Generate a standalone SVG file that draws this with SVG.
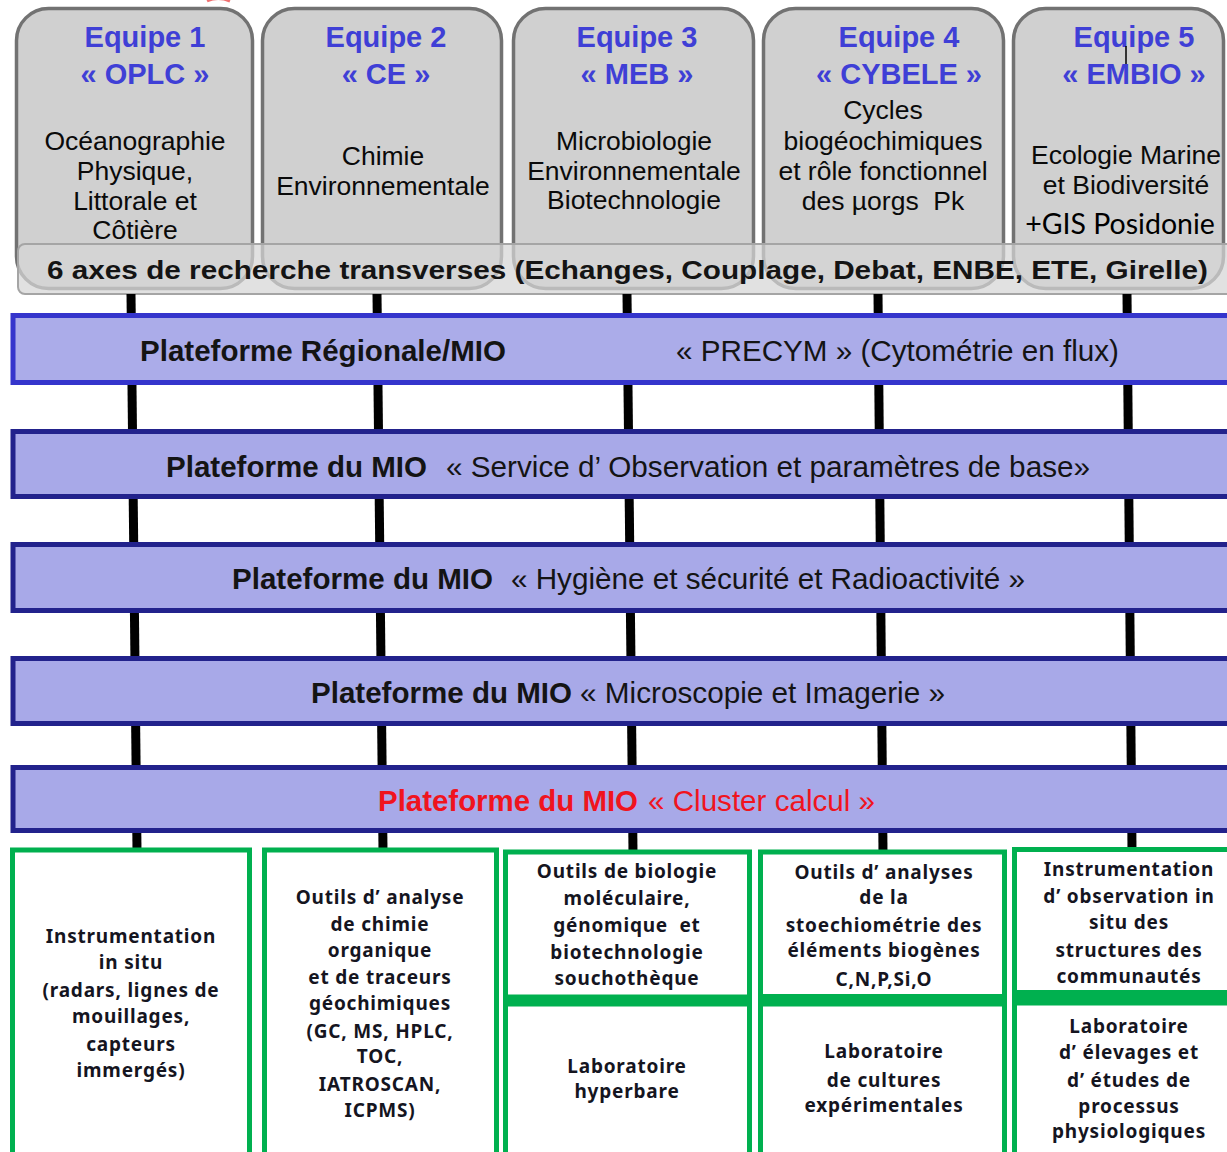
<svg xmlns="http://www.w3.org/2000/svg" width="1227" height="1152" viewBox="0 0 1227 1152">
<style>
.team{fill:#d0d0d0;stroke:#727272;stroke-width:3.5}
.ttl{font-family:"Liberation Sans",Arial,sans-serif;font-weight:bold;font-size:29px;fill:#3f3fd6;text-anchor:middle}
.dsc{font-family:"Liberation Sans",Arial,sans-serif;font-size:26.5px;fill:#0a0a0a;text-anchor:middle}
.gis{font-family:Lato,"Open Sans",sans-serif;font-size:28.5px;fill:#000;text-anchor:middle}
.axe{font-family:"Liberation Sans",Arial,sans-serif;font-weight:bold;font-size:26px;fill:#141414}
.plat{fill:#a8a9e8;stroke:#22228c;stroke-width:5}
.plat1{fill:#abace9;stroke:#3535cc;stroke-width:5}
.pb{font-family:"Liberation Sans",Arial,sans-serif;font-weight:bold;font-size:29.5px;fill:#141414}
.pr{font-family:"Liberation Sans",Arial,sans-serif;font-size:29.5px;fill:#141414}
.red{fill:#f0141e}
.box{fill:#fff;stroke:#00b04f;stroke-width:5}
.bt{font-family:"Noto Sans","Liberation Sans",sans-serif;font-weight:bold;font-size:19px;letter-spacing:0.8px;fill:#15151f;text-anchor:middle}
.ln{stroke:#000;stroke-width:9}
</style>

<path d="M207 1 Q218 -4 230 1" fill="none" stroke="#f07070" stroke-width="3"/>

<g id="equipe1">
<rect class="team" x="16.5" y="8.5" width="236" height="280" rx="32"/>
<text class="ttl" x="145" y="47">Equipe 1</text>
<text class="ttl" x="145" y="84">« OPLC »</text>
<text class="dsc" x="135" y="150">Océanographie</text>
<text class="dsc" x="135" y="180">Physique,</text>
<text class="dsc" x="135" y="210">Littorale et</text>
<text class="dsc" x="135" y="239">Côtière</text>
</g>
<g id="equipe2">
<rect class="team" x="262.5" y="8.5" width="239" height="280" rx="32"/>
<text class="ttl" x="386" y="47">Equipe 2</text>
<text class="ttl" x="386" y="84">« CE »</text>
<text class="dsc" x="383" y="165">Chimie</text>
<text class="dsc" x="383" y="195">Environnementale</text>
</g>
<g id="equipe3">
<rect class="team" x="513.5" y="8.5" width="240" height="280" rx="32"/>
<text class="ttl" x="637" y="47">Equipe 3</text>
<text class="ttl" x="637" y="84">« MEB »</text>
<text class="dsc" x="634" y="150">Microbiologie</text>
<text class="dsc" x="634" y="180">Environnementale</text>
<text class="dsc" x="634" y="209">Biotechnologie</text>
</g>
<g id="equipe4">
<rect class="team" x="763.5" y="8.5" width="240" height="280" rx="32"/>
<text class="ttl" x="899" y="47">Equipe 4</text>
<text class="ttl" x="899" y="84">« CYBELE »</text>
<text class="dsc" x="883" y="119">Cycles</text>
<text class="dsc" x="883" y="150">biogéochimiques</text>
<text class="dsc" x="883" y="180">et rôle fonctionnel</text>
<text class="dsc" x="883" y="210" xml:space="preserve">des µorgs  Pk</text>
</g>
<g id="equipe5">
<rect class="team" x="1013.5" y="8.5" width="210" height="280" rx="32"/>
<text class="ttl" x="1134" y="47">Equipe 5</text>
<text class="ttl" x="1134" y="84">« EMBIO »</text>
<line x1="1126" y1="46" x2="1126" y2="64" stroke="#000" stroke-width="1.5"/>
<text class="dsc" x="1126" y="164">Ecologie Marine</text>
<text class="dsc" x="1126" y="194">et Biodiversité</text>
<text class="gis" x="1120" y="234">+GIS Posidonie</text>
</g>

<g id="axes">
<rect x="18" y="244" width="1230" height="50" rx="7" fill="#d6d6d6" fill-opacity="0.72" stroke="#a5a5a5" stroke-width="2"/>
<text class="axe" x="47" y="279" textLength="1161" lengthAdjust="spacingAndGlyphs">6 axes de recherche transverses (Echanges, Couplage, Debat, ENBE, ETE, Girelle)</text>
</g>

<g id="connecteurs">
<line class="ln" x1="131" y1="294" x2="137" y2="850"/>
<line class="ln" x1="377" y1="294" x2="383" y2="850"/>
<line class="ln" x1="627" y1="294" x2="633" y2="852"/>
<line class="ln" x1="878" y1="294" x2="883" y2="852"/>
<line class="ln" x1="1127" y1="294" x2="1132" y2="850"/>
</g>

<g id="plateforme-regionale">
<rect class="plat1" x="13" y="315.5" width="1240" height="67"/>
<text class="pb" x="140" y="361" textLength="366" lengthAdjust="spacingAndGlyphs">Plateforme Régionale/MIO</text>
<text class="pr" x="676" y="361" textLength="443" lengthAdjust="spacingAndGlyphs">« PRECYM » (Cytométrie en flux)</text>
</g>
<g id="plateforme-observation">
<rect class="plat" x="13" y="431.5" width="1240" height="65"/>
<text class="pb" x="166" y="477" textLength="261" lengthAdjust="spacingAndGlyphs">Plateforme du MIO</text>
<text class="pr" x="446" y="477" textLength="644" lengthAdjust="spacingAndGlyphs">« Service d’ Observation et paramètres de base»</text>
</g>
<g id="plateforme-hygiene">
<rect class="plat" x="13" y="544.5" width="1240" height="66"/>
<text class="pb" x="232" y="589" textLength="261" lengthAdjust="spacingAndGlyphs">Plateforme du MIO</text>
<text class="pr" x="511" y="589" textLength="514" lengthAdjust="spacingAndGlyphs">« Hygiène et sécurité et Radioactivité »</text>
</g>
<g id="plateforme-microscopie">
<rect class="plat" x="13" y="658.5" width="1240" height="65"/>
<text class="pb" x="311" y="703" textLength="261" lengthAdjust="spacingAndGlyphs">Plateforme du MIO</text>
<text class="pr" x="580" y="703" textLength="365" lengthAdjust="spacingAndGlyphs">« Microscopie et Imagerie »</text>
</g>
<g id="plateforme-cluster">
<rect class="plat" x="13" y="767.5" width="1240" height="63"/>
<text class="pb red" x="378" y="811" textLength="260" lengthAdjust="spacingAndGlyphs">Plateforme du MIO</text>
<text class="pr red" x="648" y="811" textLength="227" lengthAdjust="spacingAndGlyphs">« Cluster calcul »</text>
</g>

<g id="outil1">
<rect class="box" x="12.5" y="850" width="237" height="310"/>
<text class="bt" x="131" y="943">Instrumentation</text>
<text class="bt" x="131" y="969">in situ</text>
<text class="bt" x="131" y="997">(radars, lignes de</text>
<text class="bt" x="131" y="1023">mouillages,</text>
<text class="bt" x="131" y="1051">capteurs</text>
<text class="bt" x="131" y="1077">immergés)</text>
</g>
<g id="outil2">
<rect class="box" x="264.5" y="850" width="232" height="310"/>
<text class="bt" x="380" y="904">Outils d’ analyse</text>
<text class="bt" x="380" y="931">de chimie</text>
<text class="bt" x="380" y="957">organique</text>
<text class="bt" x="380" y="984">et de traceurs</text>
<text class="bt" x="380" y="1010">géochimiques</text>
<text class="bt" x="380" y="1038">(GC, MS, HPLC,</text>
<text class="bt" x="380" y="1063">TOC,</text>
<text class="bt" x="380" y="1091">IATROSCAN,</text>
<text class="bt" x="380" y="1117">ICPMS)</text>
</g>
<g id="outil3">
<rect class="box" x="505.5" y="852" width="244" height="145"/>
<text class="bt" x="627" y="878">Outils de biologie</text>
<text class="bt" x="627" y="905">moléculaire,</text>
<text class="bt" x="627" y="932" xml:space="preserve">génomique  et</text>
<text class="bt" x="627" y="959">biotechnologie</text>
<text class="bt" x="627" y="985">souchothèque</text>
</g>
<g id="labo3">
<rect class="box" x="505.5" y="1004" width="244" height="160"/>
<rect x="503" y="995" width="249" height="11" fill="#00b04f"/>
<text class="bt" x="627" y="1073">Laboratoire</text>
<text class="bt" x="627" y="1098">hyperbare</text>
</g>
<g id="outil4">
<rect class="box" x="760.5" y="852" width="244" height="145"/>
<text class="bt" x="884" y="879">Outils d’ analyses</text>
<text class="bt" x="884" y="904">de la</text>
<text class="bt" x="884" y="932">stoechiométrie des</text>
<text class="bt" x="884" y="957">éléments biogènes</text>
<text class="bt" x="884" y="986">C,N,P,Si,O</text>
</g>
<g id="labo4">
<rect class="box" x="760.5" y="1004" width="244" height="160"/>
<rect x="758" y="994" width="249" height="12" fill="#00b04f"/>
<text class="bt" x="884" y="1058">Laboratoire</text>
<text class="bt" x="884" y="1087">de cultures</text>
<text class="bt" x="884" y="1112">expérimentales</text>
</g>
<g id="outil5">
<rect class="box" x="1014.5" y="849.5" width="240" height="144"/>
<text class="bt" x="1129" y="876">Instrumentation</text>
<text class="bt" x="1129" y="903">d’ observation in</text>
<text class="bt" x="1129" y="929">situ des</text>
<text class="bt" x="1129" y="957">structures des</text>
<text class="bt" x="1129" y="983">communautés</text>
</g>
<g id="labo5">
<rect class="box" x="1014.5" y="1003" width="240" height="160"/>
<rect x="1012" y="990" width="240" height="15" fill="#00b04f"/>
<text class="bt" x="1129" y="1033">Laboratoire</text>
<text class="bt" x="1129" y="1059">d’ élevages et</text>
<text class="bt" x="1129" y="1087">d’ études de</text>
<text class="bt" x="1129" y="1113">processus</text>
<text class="bt" x="1129" y="1138">physiologiques</text>
</g>
</svg>
